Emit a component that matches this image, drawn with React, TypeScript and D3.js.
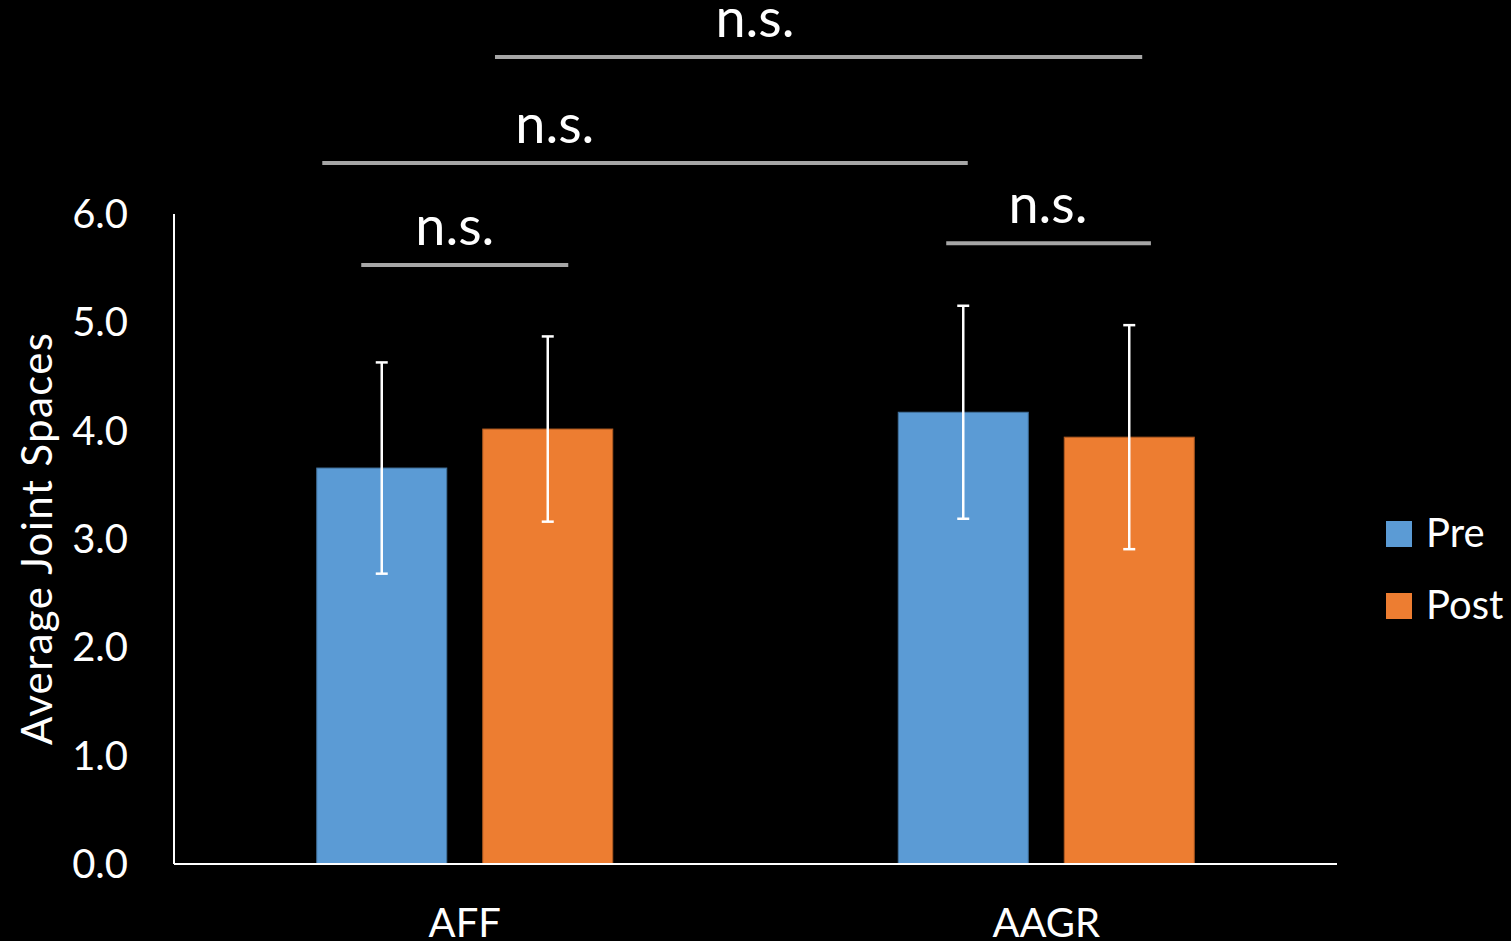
import React from "react";
import * as d3 from "d3";

const categories = ["AFF", "AAGR"];
const seriesNames = ["Pre", "Post"];
const preValues = [3.655, 4.17];
const postValues = [4.015, 3.94];
const preErrors = [0.975, 0.983];
const postErrors = [0.855, 1.034];
const yTicks = [0, 1, 2, 3, 4, 5, 6];
const colors = ["#5B9BD5", "#ED7D31"];
const edgeColors = ["#41719C", "#AE5A21"];

// significance brackets: x in category-position units (0 = AFF, 1 = AAGR), y in data units
const bracketFrom = [-0.178, -0.245, 0.052, 0.828];
const bracketTo = [0.178, 0.865, 1.165, 1.18];
const bracketLevel = [5.53, 6.47, 7.45, 5.73];
const bracketLabelX = [-0.017, 0.155, 0.499, 1.003];
const bracketLabels = ["n.s.", "n.s.", "n.s.", "n.s."];

const W = 1511;
const H = 941;
const FONT = "Lato, 'Open Sans', sans-serif";

export default function App() {
  const left = 174;
  const right = 1337;
  const bottom = 864;
  const top = 214;

  const x = d3.scaleBand<string>().domain(categories).range([left, right]).padding(0);
  const inner = d3
    .scaleBand<string>()
    .domain(seriesNames)
    .range([-148, 148])
    .paddingInner(0.2169)
    .paddingOuter(0);
  const y = d3.scaleLinear().domain([0, 6]).range([bottom, top]);
  const fmt = d3.format(".1f");
  const catCenter = (c: string) => (x(c) as number) + x.bandwidth() / 2;
  const catPos = d3
    .scaleLinear()
    .domain([0, 1])
    .range([catCenter(categories[0]), catCenter(categories[1])]);

  const series = [
    { name: seriesNames[0], values: preValues, errors: preErrors, color: colors[0], edge: edgeColors[0] },
    { name: seriesNames[1], values: postValues, errors: postErrors, color: colors[1], edge: edgeColors[1] },
  ];

  return (
    <svg
      width={W}
      height={H}
      style={{ position: "absolute", left: 0, top: 0, display: "block" }}
      fontFamily={FONT}
      fontWeight={400}
    >
      <rect x={0} y={0} width={W} height={H} fill="#000" />

      {/* bars */}
      {series.map((s) =>
        categories.map((c, i) => {
          const bx = catCenter(c) + (inner(s.name) as number);
          const by = y(s.values[i]);
          return (
            <rect
              key={s.name + c}
              x={bx}
              y={by}
              width={inner.bandwidth()}
              height={bottom - by}
              fill={s.color}
              stroke={s.edge}
              strokeWidth={1}
            />
          );
        })
      )}

      {/* error bars */}
      {series.map((s) =>
        categories.map((c, i) => {
          const cx = catCenter(c) + (inner(s.name) as number) + inner.bandwidth() / 2;
          const y1 = y(s.values[i] + s.errors[i]);
          const y0 = y(s.values[i] - s.errors[i]);
          return (
            <g key={"e" + s.name + c} stroke="#fff" strokeWidth={2.5}>
              <line x1={cx} x2={cx} y1={y1} y2={y0} />
              <line x1={cx - 6} x2={cx + 6} y1={y1} y2={y1} />
              <line x1={cx - 6} x2={cx + 6} y1={y0} y2={y0} />
            </g>
          );
        })
      )}

      {/* axes */}
      <line x1={left} x2={left} y1={top} y2={bottom} stroke="#fff" strokeWidth={2} />
      <line x1={left} x2={right} y1={bottom} y2={bottom} stroke="#fff" strokeWidth={2} />

      {yTicks.map((t) => (
        <text
          key={t}
          x={128}
          y={y(t)}
          dy="0.35em"
          textAnchor="end"
          fill="#fff"
          fontSize={40}
        >
          {fmt(t)}
        </text>
      ))}

      {categories.map((c) => (
        <text key={c} x={catCenter(c)} y={937} textAnchor="middle" fill="#fff" fontSize={40}>
          {c}
        </text>
      ))}

      <text
        transform={`translate(52,539) rotate(-90)`}
        textAnchor="middle"
        fill="#fff"
        fontSize={42}
        textLength={412}
        lengthAdjust="spacing"
      >
        Average Joint Spaces
      </text>

      {/* significance brackets */}
      {bracketLevel.map((lv, i) => (
        <g key={"b" + i}>
          <line
            x1={catPos(bracketFrom[i])}
            x2={catPos(bracketTo[i])}
            y1={y(lv)}
            y2={y(lv)}
            stroke="#A6A6A6"
            strokeWidth={4}
          />
          <text
            x={catPos(bracketLabelX[i])}
            y={y(lv) - 20}
            textAnchor="middle"
            fill="#fff"
            fontSize={54}
          >
            {bracketLabels[i]}
          </text>
        </g>
      ))}

      {/* legend */}
      {series.map((s, i) => (
        <g key={"l" + s.name} transform={`translate(1386,${521 + i * 72})`}>
          <rect x={0} y={0} width={26} height={26} fill={s.color} />
          <text x={40} y={26} fill="#fff" fontSize={40}>
            {s.name}
          </text>
        </g>
      ))}
    </svg>
  );
}
